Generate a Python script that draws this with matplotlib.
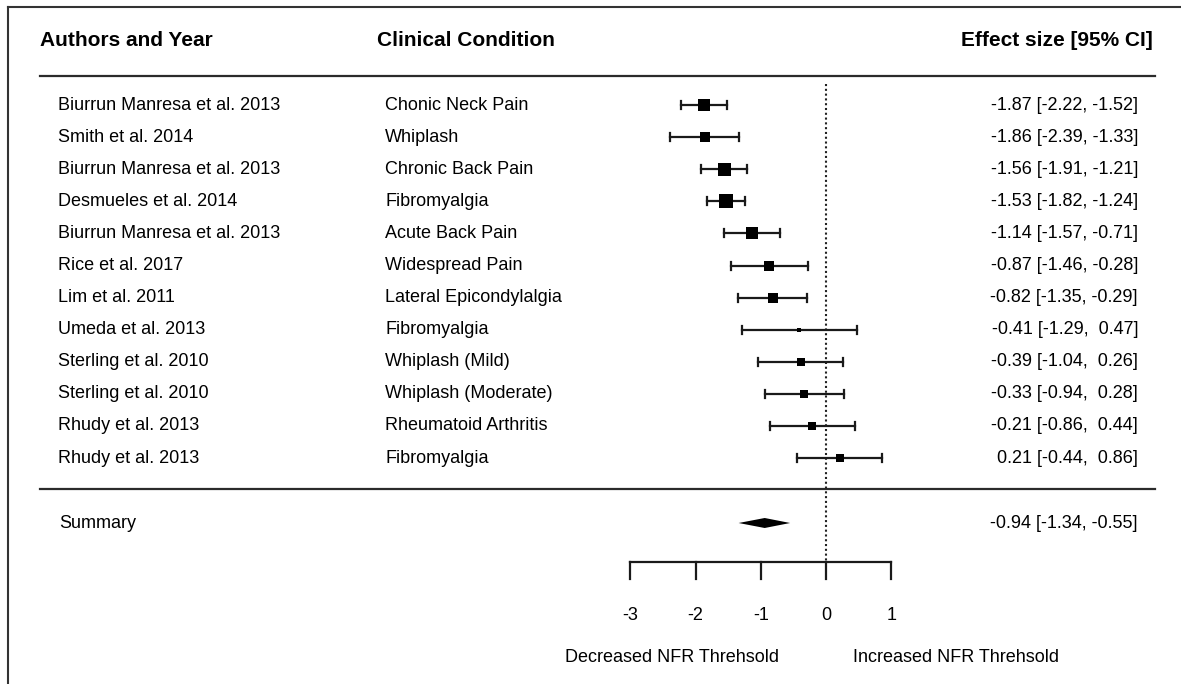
import matplotlib
matplotlib.use("Agg")

import matplotlib.pyplot as plt
from matplotlib.lines import Line2D


# =========================
# DATA
# =========================

authors = [
    "Biurrun Manresa et al. 2013",
    "Smith et al. 2014",
    "Biurrun Manresa et al. 2013",
    "Desmueles et al. 2014",
    "Biurrun Manresa et al. 2013",
    "Rice et al. 2017",
    "Lim et al. 2011",
    "Umeda et al. 2013",
    "Sterling et al. 2010",
    "Sterling et al. 2010",
    "Rhudy et al. 2013",
    "Rhudy et al. 2013",
]

conditions = [
    "Chonic Neck Pain",
    "Whiplash",
    "Chronic Back Pain",
    "Fibromyalgia",
    "Acute Back Pain",
    "Widespread Pain",
    "Lateral Epicondylalgia",
    "Fibromyalgia",
    "Whiplash (Mild)",
    "Whiplash (Moderate)",
    "Rheumatoid Arthritis",
    "Fibromyalgia",
]

estimates = [-1.87, -1.86, -1.56, -1.53, -1.14, -0.87, -0.82, -0.41, -0.39, -0.33, -0.21, 0.21]
ci_lower = [-2.22, -2.39, -1.91, -1.82, -1.57, -1.46, -1.35, -1.29, -1.04, -0.94, -0.86, -0.44]
ci_upper = [-1.52, -1.33, -1.21, -1.24, -0.71, -0.28, -0.29, 0.47, 0.26, 0.28, 0.44, 0.86]

# relative study weights (square size)
weights = [11, 10, 12, 13, 11, 9, 9, 3, 8, 8, 8, 8]

summary_est = -0.94
summary_lower = -1.34
summary_upper = -0.55

axis_ticks = [-3, -2, -1, 0, 1]


# =========================
# LAYOUT (pixels)
# =========================

W, H = 1181, 684
ZERO_PX = 826.0
UNIT_PX = 65.2


def px(xpix):
    return (xpix - ZERO_PX) / UNIT_PX


HEADER_Y = 40
HEADER_LINE_Y = 76
ROW0_Y = 105
ROW_STEP = 32.1
SEP_Y = 489
SUMMARY_Y = 523
AXIS_Y = 562
TICK_LEN = 17
TICK_LABEL_Y = 616
DIR_LABEL_Y = 657

FONT = "Liberation Sans"
FS = 13
LINE_COL = "#2b2b2b"
BAR_COL = "#1a1a1a"

fig = plt.figure(figsize=(W / 100, H / 100), dpi=100)
ax = fig.add_axes([0, 0, 1, 1])
ax.set_xlim(px(0), px(W))
ax.set_ylim(H, 0)
ax.axis("off")

# frame (only top and left visible)
fig.add_artist(Line2D([8 / W, 1], [1 - 7 / H, 1 - 7 / H], color="#333333", lw=1.5))
fig.add_artist(Line2D([8 / W, 8 / W], [0, 1 - 7 / H], color="#333333", lw=1.5))

# headers
ax.text(px(40), HEADER_Y, "Authors and Year", fontsize=15, fontweight="bold",
        family=FONT, ha="left", va="center")
ax.text(px(377), HEADER_Y, "Clinical Condition", fontsize=15, fontweight="bold",
        family=FONT, ha="left", va="center")
ax.text(px(1153), HEADER_Y, "Effect size [95% CI]", fontsize=15, fontweight="bold",
        family=FONT, ha="right", va="center")

ax.plot([px(40), px(1155)], [HEADER_LINE_Y, HEADER_LINE_Y], color=LINE_COL, lw=1.6)
ax.plot([px(40), px(1155)], [SEP_Y, SEP_Y], color=LINE_COL, lw=1.6)

# reference line at zero
ax.plot([0, 0], [HEADER_LINE_Y + 8, AXIS_Y], color="#222222", lw=1.5,
        linestyle=(0, (1.0, 1.3)))

# studies
for i in range(len(estimates)):
    y = ROW0_Y + i * ROW_STEP
    ax.text(px(58), y, authors[i], fontsize=FS, family=FONT, ha="left", va="center")
    ax.text(px(385), y, conditions[i], fontsize=FS, family=FONT, ha="left", va="center")
    label = f"{estimates[i]:5.2f} [{ci_lower[i]:5.2f}, {ci_upper[i]:5.2f}]"
    ax.text(px(1138), y, label.strip(), fontsize=FS, family=FONT, ha="right", va="center")

    ax.plot([ci_lower[i], ci_upper[i]], [y, y], color=BAR_COL, lw=1.6)
    ax.plot([ci_lower[i], ci_lower[i]], [y - 4, y + 4], color=BAR_COL, lw=1.6)
    ax.plot([ci_upper[i], ci_upper[i]], [y - 4, y + 4], color=BAR_COL, lw=1.6)
    ax.plot(estimates[i], y, marker="s", color="black", markeredgewidth=0,
            markersize=weights[i] * 0.78)

# summary
ax.text(px(59), SUMMARY_Y, "Summary", fontsize=FS, family=FONT, ha="left", va="center")
ax.fill([summary_lower, summary_est, summary_upper, summary_est],
        [SUMMARY_Y, SUMMARY_Y - 5, SUMMARY_Y, SUMMARY_Y + 5],
        color="black", lw=0)
ax.text(px(1138), SUMMARY_Y,
        f"{summary_est:.2f} [{summary_lower:.2f}, {summary_upper:.2f}]",
        fontsize=FS, family=FONT, ha="right", va="center")

# x axis
ax.plot([axis_ticks[0], axis_ticks[-1]], [AXIS_Y, AXIS_Y], color=BAR_COL, lw=1.6)
for t in axis_ticks:
    ax.plot([t, t], [AXIS_Y, AXIS_Y + TICK_LEN], color=BAR_COL, lw=1.6)
    ax.text(t, TICK_LABEL_Y, f"{t}", fontsize=FS, family=FONT, ha="center", va="center")

ax.text(px(779), DIR_LABEL_Y, "Decreased NFR Threhsold", fontsize=FS, family=FONT,
        ha="right", va="center")
ax.text(px(853), DIR_LABEL_Y, "Increased NFR Threhsold", fontsize=FS, family=FONT,
        ha="left", va="center")

fig.savefig("out.png", dpi=100)
plt.close(fig)
